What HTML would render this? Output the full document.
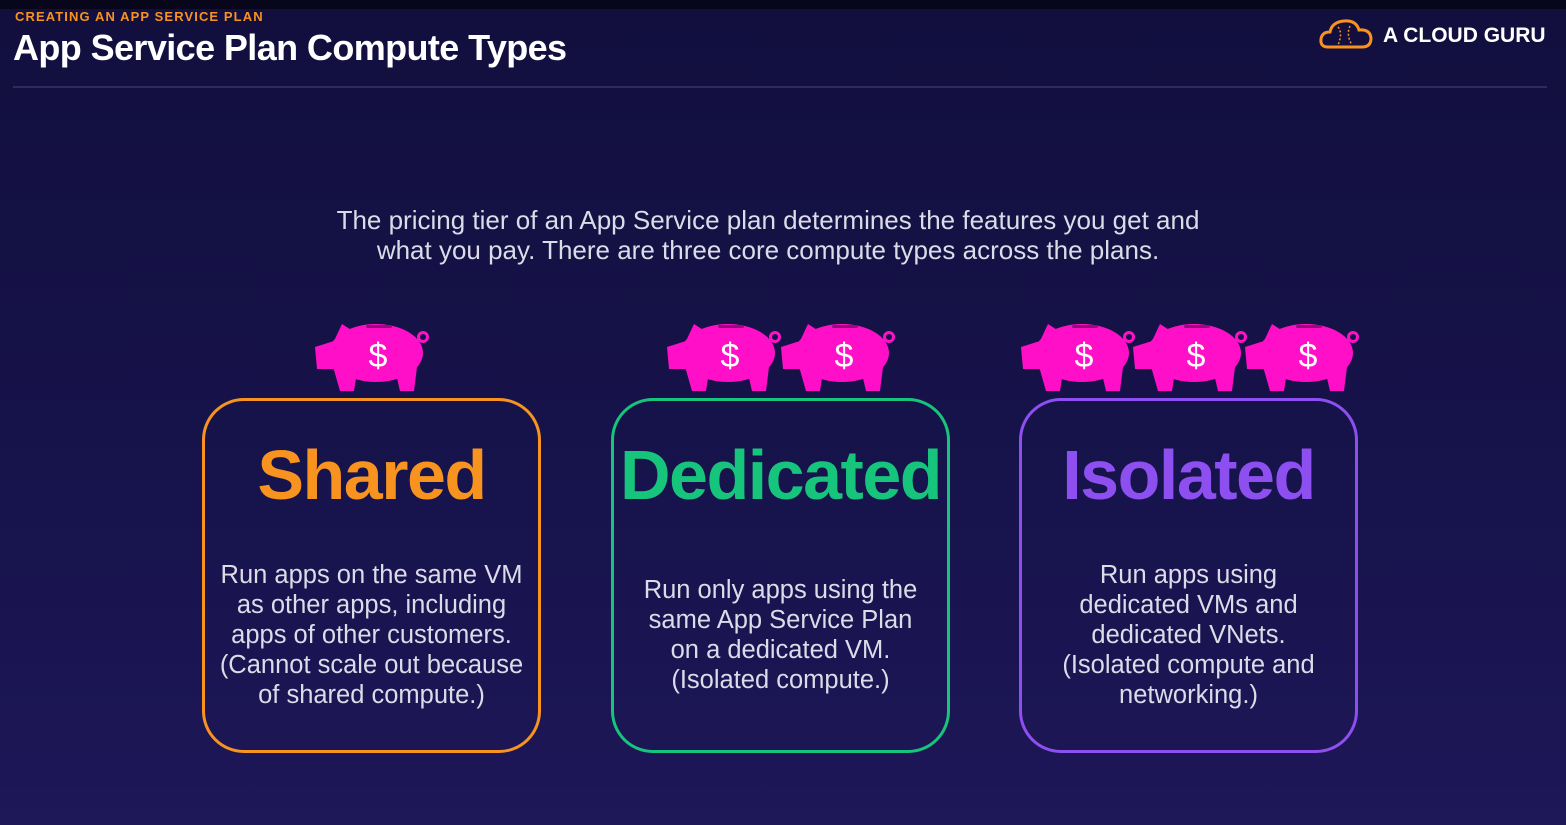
<!DOCTYPE html>
<html><head><style>
*{margin:0;padding:0;box-sizing:border-box}
body{width:1566px;height:825px;overflow:hidden;background:linear-gradient(180deg,#120f3e 0%,#17134c 60%,#1e1758 100%);font-family:"Liberation Sans",sans-serif;position:relative;color:#fff}
.top{position:absolute;left:0;top:0;width:1566px;height:9px;background:#07061a}
.sub{position:absolute;left:15px;top:9px;font-size:13px;font-weight:bold;color:#f7931e;letter-spacing:1.1px}
.title{position:absolute;left:13px;top:27px;font-size:36px;font-weight:bold;letter-spacing:-0.6px}
.hr{position:absolute;left:13px;top:86px;width:1534px;height:2px;background:#2e2b5e}
.logo{position:absolute;left:1383px;top:24px;font-size:21px;font-weight:bold}
.intro{position:absolute;left:0;top:205px;width:1536px;text-align:center;font-size:26px;line-height:30px;color:#dcdce8}
.card{position:absolute;top:398px;width:339px;height:355px;border:3px solid;border-radius:42px}
.card h2{position:absolute;top:34px;left:-20px;right:-20px;text-align:center;font-size:70px;letter-spacing:-1.5px;font-weight:bold}
.card p{position:absolute;left:-10px;right:-10px;text-align:center;font-size:25.5px;line-height:30px;color:#dcdce8}
.pig{position:absolute;top:319px}
</style></head><body>
<div class="top"></div>
<div class="sub">CREATING AN APP SERVICE PLAN</div>
<div class="title">App Service Plan Compute Types</div>
<div class="hr"></div>
<svg style="position:absolute;left:1318px;top:18px" width="56" height="32" viewBox="0 0 56 32"><path d="M10 29 Q2 29 3 21 Q4 14 12 14 Q14 4 26 3 Q38 2 41 12 Q52 11 53 20 Q53 29 44 29 Z" fill="none" stroke="#f7931e" stroke-width="3"/><path d="M20 9 q5 6 0 18 M32 8 q-4 9 2 19" stroke="#f7931e" stroke-width="1.5" stroke-dasharray="2 2" fill="none"/></svg>
<div class="logo">A CLOUD GURU</div>
<div class="intro">The pricing tier of an App Service plan determines the features you get and<br>what you pay. There are three core compute types across the plans.</div>

<svg width="0" height="0" style="position:absolute"><defs><g id="pg">
<ellipse cx="62" cy="34" rx="47" ry="29" fill="#ff10c8"/>
<path d="M1 28 L20 22 L24 50 L3 50 Z" fill="#ff10c8"/>
<path d="M20 22 L28 5 L42 14 Z" fill="#ff10c8"/>
<path d="M18 44 L44 46 L40 72 L26 72 Z" fill="#ff10c8"/>
<path d="M80 46 L104 40 L100 72 L86 72 Z" fill="#ff10c8"/>
<circle cx="109" cy="18" r="4.5" fill="none" stroke="#ff10c8" stroke-width="3"/>
<rect x="52" y="6" width="26" height="3" rx="1.5" fill="#9a0a7a"/>
<text x="64" y="48" font-family="Liberation Sans" font-size="34" fill="#fff" text-anchor="middle">$</text>
</g></defs></svg>
<svg class="pig" style="left:314px" width="118" height="74"><use href="#pg"/></svg>
<svg class="pig" style="left:666px" width="118" height="74"><use href="#pg"/></svg>
<svg class="pig" style="left:780px" width="118" height="74"><use href="#pg"/></svg>
<svg class="pig" style="left:1020px" width="118" height="74"><use href="#pg"/></svg>
<svg class="pig" style="left:1132px" width="118" height="74"><use href="#pg"/></svg>
<svg class="pig" style="left:1244px" width="118" height="74"><use href="#pg"/></svg>

<div class="card" style="left:202px;border-color:#f7931e"><h2 style="color:#f7931e">Shared</h2><p style="top:159px">Run apps on the same VM<br>as other apps, including<br>apps of other customers.<br>(Cannot scale out because<br>of shared compute.)</p></div>
<div class="card" style="left:611px;border-color:#17c47c"><h2 style="color:#17c47c">Dedicated</h2><p style="top:174px">Run only apps using the<br>same App Service Plan<br>on a dedicated VM.<br>(Isolated compute.)</p></div>
<div class="card" style="left:1019px;border-color:#8e4ff0"><h2 style="color:#8e4ff0">Isolated</h2><p style="top:159px">Run apps using<br>dedicated VMs and<br>dedicated VNets.<br>(Isolated compute and<br>networking.)</p></div>
</body></html>
